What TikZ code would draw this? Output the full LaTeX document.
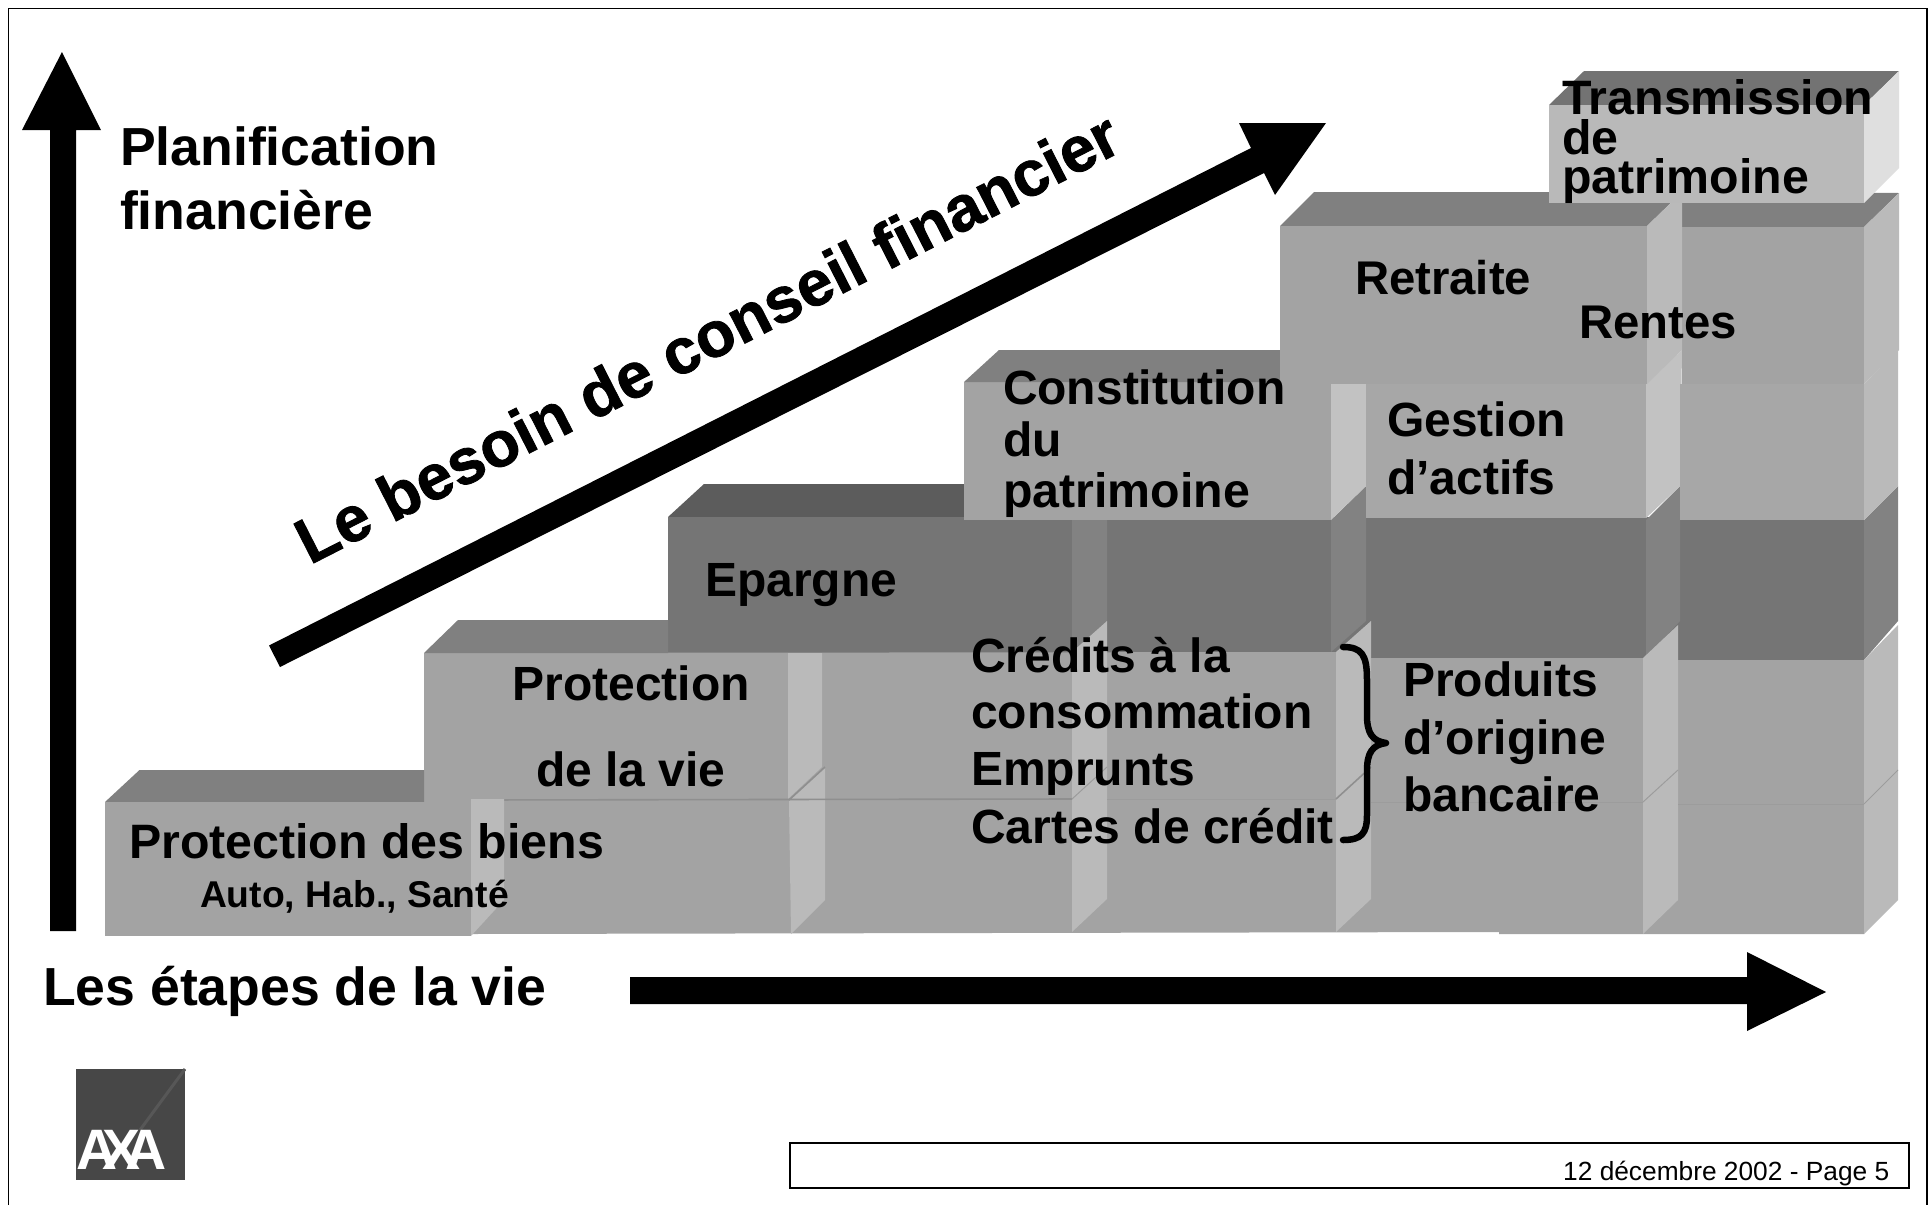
\documentclass[tikz,border=0pt]{standalone}
\usepackage{fontspec}
\setmainfont{Liberation Sans}
\newfontface\heavyface[FakeBold=1.3]{Liberation Sans Bold}
\definecolor{frontc}{gray}{0.64}
\definecolor{frontup}{gray}{0.655}
\definecolor{stripc}{gray}{0.73}
\definecolor{stripup}{gray}{0.76}
\definecolor{topc}{gray}{0.50}
\definecolor{darkfront}{gray}{0.46}
\definecolor{darktop}{gray}{0.36}
\definecolor{darkstrip}{gray}{0.51}
\definecolor{seam}{gray}{0.56}
\definecolor{seamsoft}{gray}{0.61}
\definecolor{logoc}{gray}{0.28}
\definecolor{logostripe}{gray}{0.34}
\tikzset{
  lab/.style={anchor=base west,inner sep=0pt,outer sep=0pt,font=\fontsize{48}{48}\selectfont\bfseries,text=black},
  labbig/.style={lab,font=\fontsize{53.6}{53.6}\selectfont\bfseries},
  labsmall/.style={lab,font=\fontsize{37.3}{37.3}\selectfont\bfseries},
  labtop/.style={lab,font=\fontsize{48.3}{48.3}\selectfont\bfseries},
  front/.style={fill=frontc},
  strip/.style={fill=stripc},
  topface/.style={fill=topc},
  seamline/.style={draw=seam,line width=1.6pt},
  softseam/.style={draw=seamsoft,line width=1pt},
  blackshape/.style={fill=black}
}
\begin{document}
\begin{tikzpicture}[x=1pt,y=-1pt]
\useasboundingbox (0,0) rectangle (1930,1205);
\fill[white] (0,0) rectangle (1930,1205);
% frame
\draw[black,line width=1.5pt] (8.6,1205) -- (8.6,8.6) -- (1927,8.6) -- (1927,1205);
% dark (Epargne) row
\fill[darktop] (668,517) -- (704,484) -- (1000,484) -- (964,517) -- cycle;
\fill[darkfront] (668,517) rectangle (1864,660);
\foreach \a/\b/\c in {1072/1107/652,1331/1366/652,1646/1680/658,1864/1898/660}
  \fill[darkstrip] (\a,520) -- (\b,486) -- (\b,621) -- (\a,\c) -- cycle;
% row 2 and row 1 fronts
\fill[front] (424,653) -- (1336,652) -- (1371,658) -- (1643,658) -- (1678,660) -- (1864,660)
  -- (1864,934) -- (1499,934) -- (1499,932) -- (471,934) -- (471,802) -- (424,802) -- cycle;
% strips
\fill[strip] (788,653) -- (822,653) -- (822,767) -- (788,799) -- cycle;
\fill[strip] (789,801) -- (825,767) -- (825,900) -- (791,934) -- cycle;
\fill[strip] (1072,652) -- (1107,621) -- (1107,899) -- (1072,932) -- cycle;
\fill[strip] (1336,652) -- (1371,621) -- (1371,899) -- (1336,932) -- cycle;
\fill[strip] (1643,658) -- (1678,625) -- (1678,900) -- (1643,934) -- cycle;
\fill[strip] (1864,660) -- (1898,625) -- (1898,900) -- (1864,934) -- cycle;
% seams
\draw[seamline] (471,800) -- (1072,799);
\draw[softseam] (1107,799) -- (1336,799);
\draw[softseam] (1371,802) -- (1643,802);
\draw[softseam] (1678,804) -- (1864,804);
\draw[seamline] (789,800) -- (825,767);
\draw[seamline] (1336,799) -- (1371,767);
\draw[softseam] (1072,799) -- (1107,767);
\draw[softseam] (1643,802) -- (1678,770);
\draw[softseam] (1864,804) -- (1898,770);
% protection de la vie top, box 1
\fill[topface] (424,653) -- (458,620) -- (668,620) -- (668,653) -- cycle;
\fill[topface] (105,802) -- (139.5,770) -- (424,770) -- (424,802) -- cycle;
\fill[strip] (471,799) -- (504,799) -- (504,900) -- (471,936) -- cycle;
\fill[front] (105,802) rectangle (471,936);
% row 3
\fill[front] (964,382) rectangle (1331,520);
\fill[stripup] (1331,384) -- (1366,384) -- (1366,486) -- (1331,520) -- cycle;
\fill[frontup] (1366,384) rectangle (1646,518);
\fill[stripup] (1646,384) -- (1682,350) -- (1680,486) -- (1646,518) -- cycle;
\fill[frontup] (1680,384) rectangle (1864,520);
\fill[stripc] (1864,384) -- (1898,350) -- (1898,486) -- (1864,520) -- cycle;
\fill[topface] (964,382) -- (999,350) -- (1280,350) -- (1280,382) -- cycle;
% row 4 back right
\fill[topface] (1682,192) -- (1899,193) -- (1864,227) -- (1682,227) -- cycle;
\fill[front] (1682,227) rectangle (1864,384);
\fill[stripc] (1864,227) -- (1899,193) -- (1899,350) -- (1864,384) -- cycle;
% retraite
\fill[topface] (1280,226) -- (1314,192) -- (1682,192) -- (1647,226) -- cycle;
\fill[strip] (1647,226) -- (1682,192) -- (1682,350) -- (1647,384) -- cycle;
\fill[front] (1280,226) rectangle (1647,384);
% transmission
\fill[gray!90!black] (1549,105) -- (1584,71) -- (1899,71) -- (1864,105) -- cycle;
\fill[gray!25!white] (1864,105) -- (1899,71) -- (1899,168) -- (1864,203) -- cycle;
\fill[gray!55!white] (1549,105) rectangle (1864,203);
% arrows
\fill[blackshape] (50,931) -- (50,130) -- (22,130) -- (62,52) -- (101,130) -- (76,130) -- (76,931) -- cycle;
\fill[blackshape] (630,977) -- (1747,977) -- (1747,952) -- (1826,992) -- (1747,1031) -- (1747,1004) -- (630,1004) -- cycle;
\fill[blackshape] (269,645.5) -- (1251,148) -- (1239,123) -- (1326,123) -- (1275,195) -- (1264,173) -- (280,667) -- cycle;
% brace
\draw[black,line width=6.5pt,line cap=round,line join=round]
  (1343,647) .. controls (1362,647) and (1367,655) .. (1367,680)
  -- (1367,715) .. controls (1367,733) and (1372,741) .. (1386,743)
  .. controls (1372,745) and (1367,753) .. (1367,771)
  -- (1367,815) .. controls (1367,833) and (1362,840) .. (1343,840);
% texts
\node[labbig] (plan1) at (120,165) {Planification};
\node[labbig] (plan2) at (120,229) {financière};
\node[lab,font=\fontsize{64}{64}\heavyface,rotate=27] (besoin) at (310,565) {Le besoin de conseil financier};
\node[labbig] (etapes) at (43,1005) {Les étapes de la vie};
\node[lab,font=\fontsize{48.3}{48.3}\selectfont\bfseries] (biens) at (129,858) {Protection des biens};
\node[labsmall] (auto) at (200,907) {Auto, Hab., Santé};
\node[lab] (vie1) at (512.5,700) {Protection};
\node[lab] (vie2) at (536,786) {de la vie};
\node[lab] (epargne) at (705,596) {Epargne};
\node[lab] (c1) at (971,672) {Crédits à la};
\node[lab] (c2) at (971,728) {consommation};
\node[lab] (c3) at (971,785.5) {Emprunts};
\node[lab] (c4) at (971,843) {Cartes de crédit};
\node[lab] (p1) at (1403,696) {Produits};
\node[lab] (p2) at (1403,754) {d’origine};
\node[lab] (p3) at (1403,811) {bancaire};
\node[lab] (cons1) at (1003,404) {Constitution};
\node[lab] (cons2) at (1003,456) {du};
\node[labtop] (cons3) at (1003,507.5) {patrimoine};
\node[lab] (g1) at (1387,436) {Gestion};
\node[lab] (g2) at (1387,494) {d’actifs};
\node[lab,font=\fontsize{47.3}{47.3}\selectfont\bfseries] (retraite) at (1355,294) {Retraite};
\node[lab,font=\fontsize{47.3}{47.3}\selectfont\bfseries] (rentes) at (1579,338) {Rentes};
\node[labtop] (t1) at (1562,114) {Transmission};
\node[labtop] (t2) at (1562,154.5) {de};
\node[labtop] (t3) at (1562,193.5) {patrimoine};
% logo
\fill[logoc] (76,1069) rectangle (185,1180);
\draw[logostripe,line width=3pt] (185,1069) -- (140,1130);
\node[anchor=base west,inner sep=0pt,text=white,font=\fontsize{57}{57}\selectfont\bfseries] (axa) at (76,1169) {A\kern-15ptX\kern-15ptA};
% footer
\draw[black,line width=2pt] (790,1143) rectangle (1909,1188);
\node[anchor=base west,inner sep=0pt,font=\fontsize{26.3}{26.3}\selectfont] (foot) at (1563,1180) {12 décembre 2002 - Page 5};
\end{tikzpicture}
\end{document}
